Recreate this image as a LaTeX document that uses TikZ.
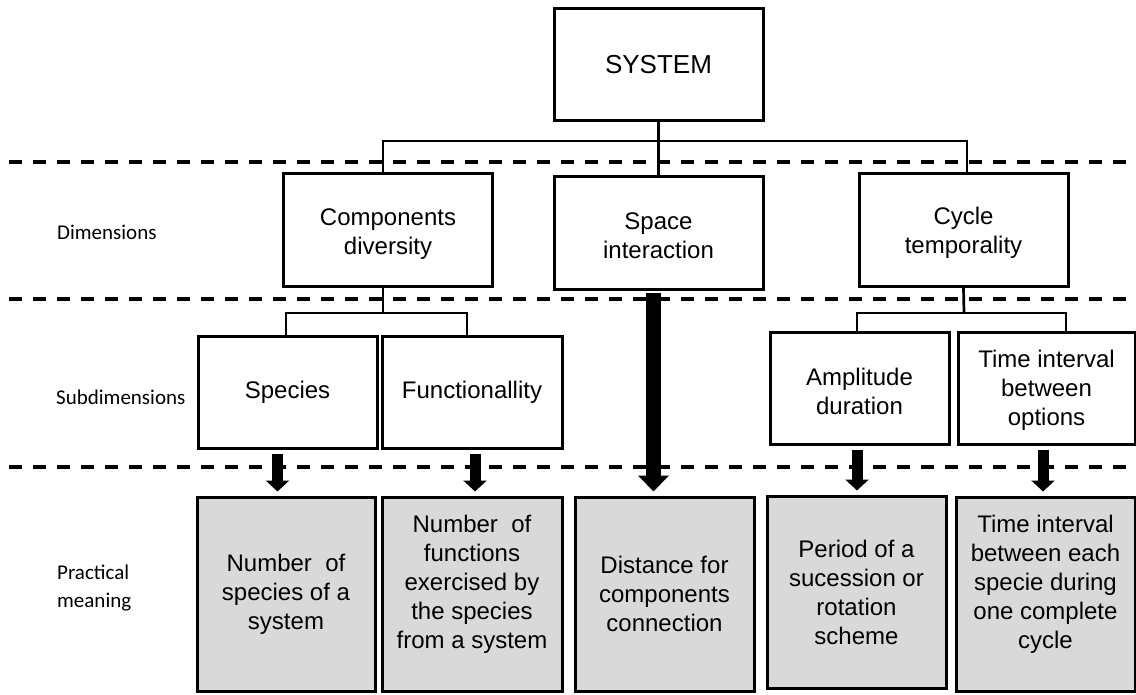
\documentclass[tikz,border=0pt]{standalone}
\usepackage{fontspec}
\setmainfont{Liberation Sans}
\newfontfamily\labelfont{Carlito}
\usetikzlibrary{arrows.meta}
\definecolor{boxgray}{HTML}{D9D9D9}
\begin{document}
\begin{tikzpicture}[x=1pt,y=-1pt,
  boxfont/.style={font=\fontsize{24}{29}\selectfont},
  box/.style={draw,line width=3pt,rectangle,inner sep=0pt,align=center,boxfont},
  txt/.style={boxfont,align=center,inner sep=0pt},
  dimbox/.style={box,minimum width=209pt,minimum height=113pt},
  subbox/.style={box,minimum width=179pt,minimum height=112pt},
  meaning/.style={box,fill=boxgray,minimum width=179pt,minimum height=194pt},
  conn/.style={line width=2.7pt},
  sep/.style={line width=4pt,dash pattern=on 13pt off 11pt},
  thinarrow/.style={line width=11pt,shorten <=4pt,shorten >=4pt,
    -{Triangle[width=23pt,length=11pt]}},
  thickarrow/.style={line width=15pt,shorten <=2pt,shorten >=4pt,
    -{Triangle[width=30pt,length=16pt]}},
  rowlabel/.style={anchor=west,align=left,inner sep=0pt,
    font=\labelfont\fontsize{21}{28}\selectfont}]
\useasboundingbox (0,0) rectangle (1136,695);

% level separators
\draw[sep] (9,162) -- (1136,162);
\draw[sep] (9,299) -- (1136,299);
\draw[sep] (9,467) -- (1136,467);

% row labels
\node[rowlabel] (lbldim) at (57,232) {Dimensions};
\node[rowlabel] (lblsub) at (56,397) {Subdimensions};
\node[rowlabel] (lblmean) at (57,588) {Practical\\meaning};

% top level
\node[box,minimum width=209pt,minimum height=112pt,
  font=\fontsize{26}{31}\selectfont] (sys) at (658.5,65) {SYSTEM};

% dimensions
\node[dimbox,label={[txt,yshift=-4pt]center:{Components\\diversity}}] (comp) at (388,230.5) {};
\node[dimbox,label={[txt,yshift=-3pt]center:{Space\\interaction}}] (space) at (658.5,233) {};
\node[dimbox,label={[txt,yshift=-3pt]center:{Cycle\\temporality}}] (cyc) at (963.5,230) {};

% subdimensions
\node[subbox] (spec) at (287.5,392) {Species};
\node[subbox,minimum width=180pt] (func) at (472,392) {Functionallity};
\node[subbox,label={[txt,yshift=-3pt]center:{Amplitude\\duration}}] (ampl) at (859.5,388) {};
\node[subbox,minimum width=177pt,label={[txt,yshift=-2pt]center:{Time interval\\between\\options}}] (tint) at (1046.5,388) {};

% practical meaning
\node[meaning,minimum width=178pt] (m1) at (286,594) {Number\ \ of\\species of a\\system};
\node[meaning,minimum width=180pt,
  label={[txt,yshift=10pt]center:{Number\ \ of\\functions\\exercised by\\the species\\from a system}}] (m2) at (472,594) {};
\node[meaning] (m3) at (664.5,594) {Distance for\\components\\connection};
\node[meaning,minimum height=192pt] (m4) at (856.5,592) {Period of a\\sucession or\\rotation\\scheme};
\node[meaning,
  label={[txt,yshift=10pt]center:{Time interval\\between each\\specie during\\one complete\\cycle}}] (m5) at (1045.5,594) {};

% tree connectors
\coordinate (bus1) at (658.5,141);
\draw[conn] (sys.south) -- (space.north);
\draw[conn] ([xshift=-5pt]comp.north) |- (bus1) -| ([xshift=3.5pt]cyc.north);

\coordinate (bus2) at (383,313);
\draw[conn] ([xshift=-5pt]comp.south) -- (bus2);
\draw[conn] ([xshift=-1.5pt]spec.north) |- (bus2) -| ([xshift=-5pt]func.north);

\coordinate (bus3) at (964,313);
\draw[conn] (cyc.south) -- (bus3);
\draw[conn] ([xshift=-2.5pt]ampl.north) |- (bus3) -| ([xshift=19.5pt]tint.north);

% arrows to practical meaning
\draw[thinarrow] ([xshift=-10pt]spec.south) -- ([xshift=-10pt]spec.south |- m1.north);
\draw[thinarrow] ([xshift=3pt]func.south) -- ([xshift=3pt]func.south |- m2.north);
\draw[thickarrow] ([xshift=-5pt]space.south) -- ([xshift=-5pt]space.south |- m3.north);
\draw[thinarrow] ([xshift=-2.5pt]ampl.south) -- ([xshift=-2.5pt]ampl.south |- m4.north);
\draw[thinarrow] ([xshift=-3.5pt]tint.south) -- ([xshift=-3.5pt]tint.south |- m5.north);
\end{tikzpicture}
\end{document}
